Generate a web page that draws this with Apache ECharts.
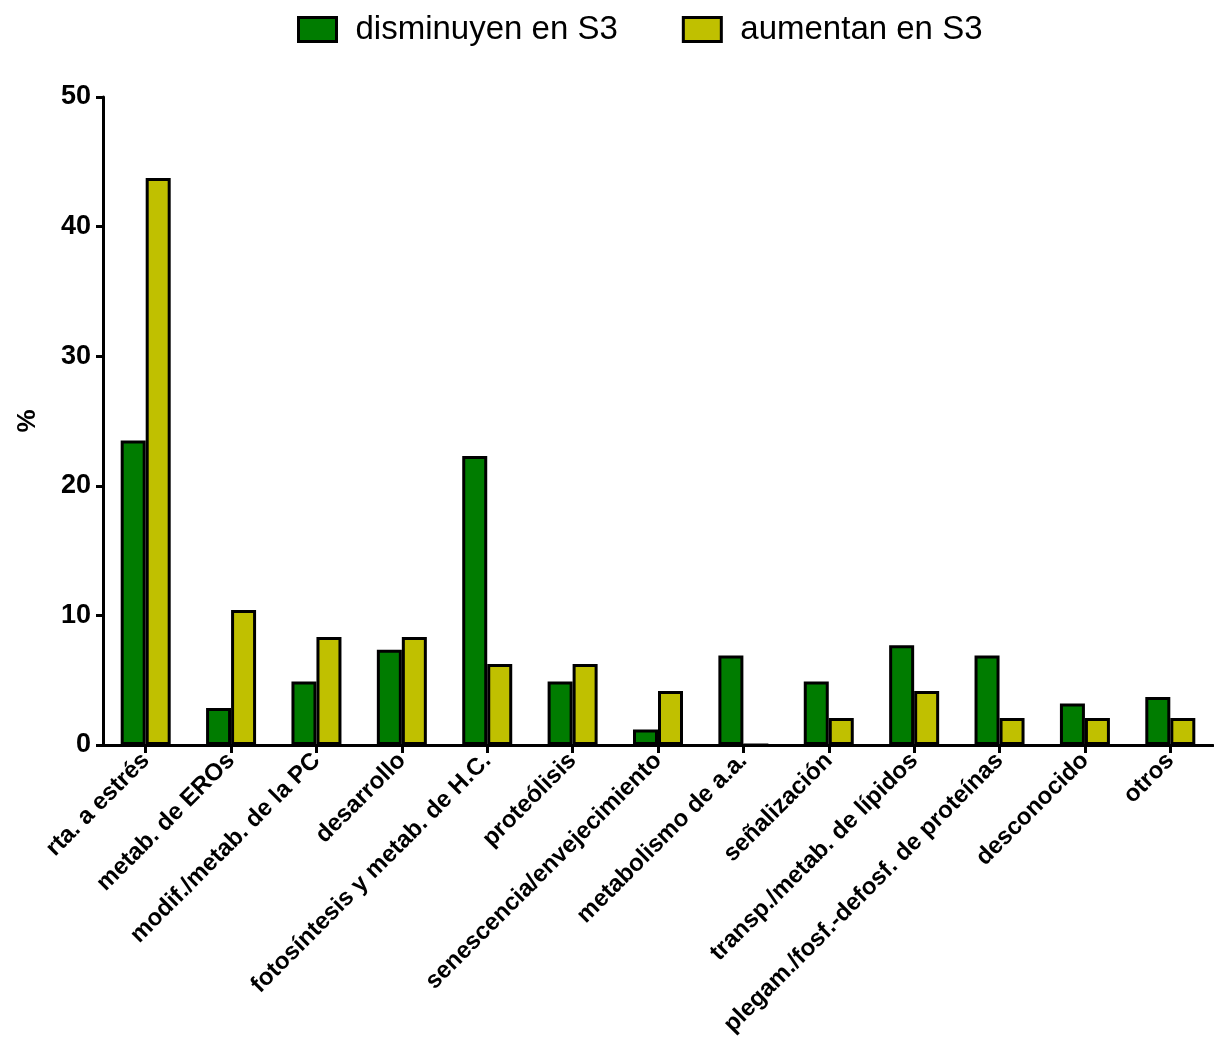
<!DOCTYPE html>
<html>
<head>
<meta charset="utf-8">
<script src="https://cdn.jsdelivr.net/npm/echarts@6/dist/echarts.min.js"></script>
<style>
  html, body { margin: 0; padding: 0; background: #fff; }
  #chart { width: 1214px; height: 1045px; }
</style>
</head>
<body>
<div id="chart"></div>
<script>
// Functional categories of the proteins
const categories = [
  'rta. a estrés',
  'metab. de EROs',
  'modif./metab. de la PC',
  'desarrollo',
  'fotosíntesis y metab. de H.C.',
  'proteólisis',
  'senescencia/envejecimiento',
  'metabolismo de a.a.',
  'señalización',
  'transp./metab. de lípidos',
  'plegam./fosf.-defosf. de proteínas',
  'desconocido',
  'otros'
];

// Percentages per category
const disminuyen = [23.5, 2.85, 4.9, 7.35, 22.3, 4.9, 1.2, 6.9, 4.9, 7.7, 6.9, 3.2, 3.7];
const aumentan = [43.75, 10.42, 8.33, 8.33, 6.25, 6.25, 4.17, 0, 2.08, 4.17, 2.08, 2.08, 2.08];

const seriesNames = ['disminuyen en S3', 'aumentan en S3'];
const yTicks = { min: 0, max: 50, interval: 10 };

const GREEN = '#007c00';
const YELLOW = '#c0c000';
const FONT = '"Liberation Sans", Arial, sans-serif';

const chart = echarts.init(document.getElementById('chart'), null, { renderer: 'canvas' });

chart.setOption({
  animation: false,
  backgroundColor: '#ffffff',
  legend: {
    top: 8,
    left: 292,
    icon: 'rect',
    itemWidth: 38,
    itemHeight: 24,
    itemGap: 64,
    data: seriesNames,
    textStyle: { fontFamily: FONT, fontSize: 33, color: '#000', padding: [0, 0, 0, 14] },
    itemStyle: { borderColor: '#000', borderWidth: 3 }
  },
  grid: { left: 103, right: 1, top: 97, bottom: 300, containLabel: false },
  xAxis: {
    type: 'category',
    data: categories,
    axisLine: { lineStyle: { color: '#000', width: 3 } },
    axisTick: { show: true, alignWithLabel: true, length: 8, lineStyle: { color: '#000', width: 3 } },
    axisLabel: {
      rotate: 45,
      interval: 0,
      margin: 12,
      fontFamily: FONT,
      fontWeight: 'bold',
      fontSize: 24,
      color: '#000'
    }
  },
  yAxis: {
    type: 'value',
    min: yTicks.min,
    max: yTicks.max,
    interval: yTicks.interval,
    name: '%',
    nameLocation: 'middle',
    nameRotate: 90,
    nameGap: 62,
    nameTextStyle: { fontFamily: FONT, fontWeight: 'bold', fontSize: 26, color: '#000' },
    axisLine: { show: true, lineStyle: { color: '#000', width: 3 } },
    axisTick: { show: true, length: 7, lineStyle: { color: '#000', width: 3 } },
    splitLine: { show: false },
    axisLabel: {
      margin: 12,
      fontFamily: FONT,
      fontWeight: 'bold',
      fontSize: 27,
      color: '#000'
    }
  },
  series: [
    {
      name: seriesNames[0],
      type: 'bar',
      data: disminuyen,
      barWidth: 25,
      barGap: '0%',
      itemStyle: { color: GREEN, borderColor: '#000', borderWidth: 3 }
    },
    {
      name: seriesNames[1],
      type: 'bar',
      data: aumentan,
      barWidth: 25,
      barGap: '0%',
      itemStyle: { color: YELLOW, borderColor: '#000', borderWidth: 3 }
    }
  ]
});
</script>
</body>
</html>
